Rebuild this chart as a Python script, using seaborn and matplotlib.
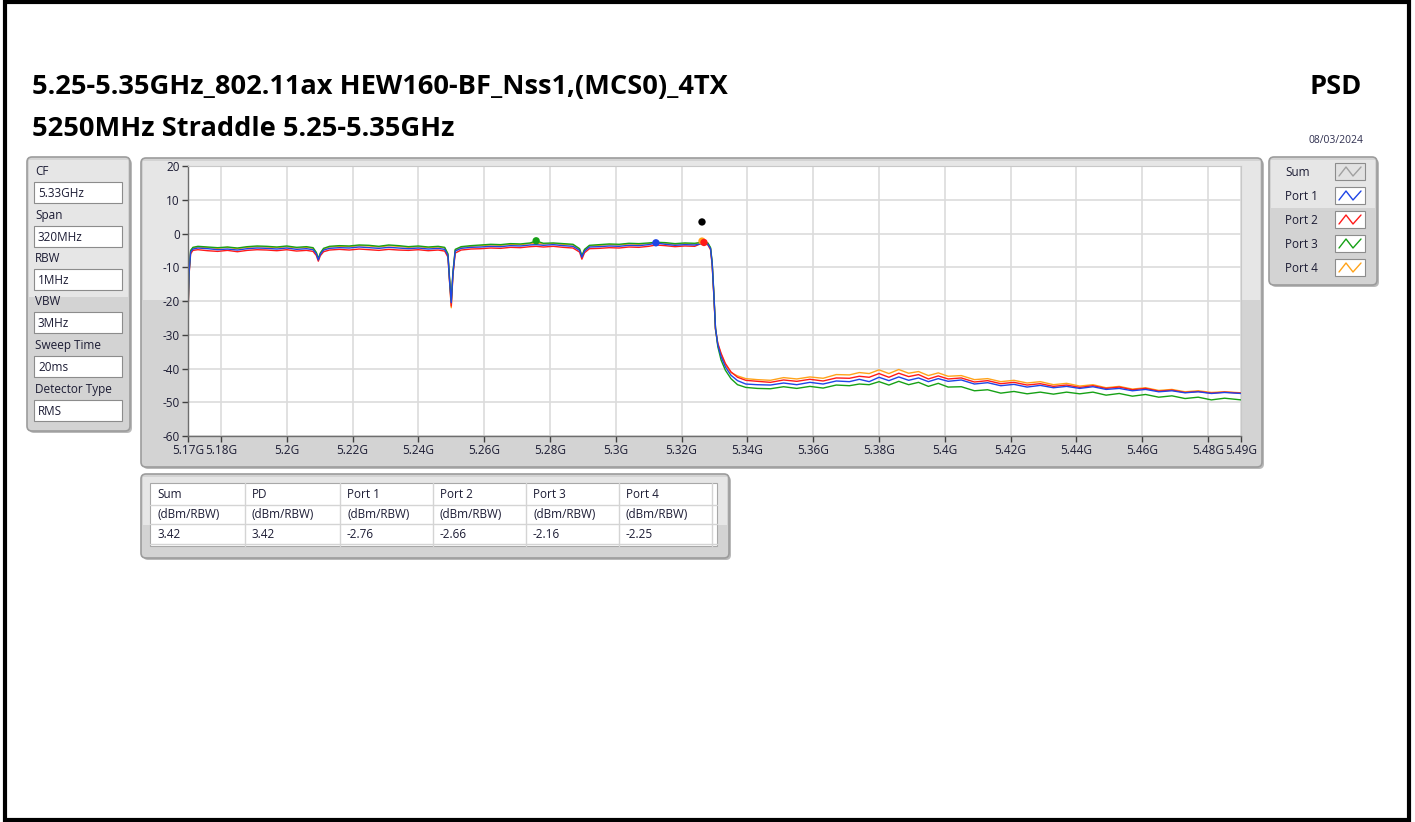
import pandas as pd
import matplotlib.pyplot as plt
import seaborn as sns
from matplotlib.patches import FancyBboxPatch, Rectangle
from matplotlib.lines import Line2D
from matplotlib.transforms import IdentityTransform

# %%
# spectrum trace (GHz / dBm per RBW)
freq = [
    5.1700, 5.1703, 5.1708, 5.1715, 5.1730, 5.1760, 5.1790, 5.1820, 5.1850, 5.1880,
    5.1910, 5.1940, 5.1970, 5.2000, 5.2030, 5.2060, 5.2080, 5.2090, 5.2096, 5.2102,
    5.2112, 5.2130, 5.2160, 5.2190, 5.2220, 5.2250, 5.2280, 5.2310, 5.2340, 5.2370,
    5.2400, 5.2430, 5.2460, 5.2480, 5.2490, 5.2495, 5.2500, 5.2505, 5.2512, 5.2530,
    5.2560, 5.2590, 5.2620, 5.2650, 5.2680, 5.2710, 5.2740, 5.2758, 5.2780, 5.2810,
    5.2840, 5.2870, 5.2890, 5.2897, 5.2905, 5.2920, 5.2950, 5.2980, 5.3010, 5.3040,
    5.3070, 5.3100, 5.3122, 5.3150, 5.3180, 5.3210, 5.3240, 5.3265, 5.3280, 5.3288,
    5.3293, 5.3298, 5.3303, 5.3310, 5.3320, 5.3333, 5.3350, 5.3370, 5.3395, 5.3430,
    5.3470, 5.3510, 5.3550, 5.3590, 5.3630, 5.3670, 5.3710, 5.3740, 5.3770, 5.3800,
    5.3830, 5.3860, 5.3890, 5.3920, 5.3950, 5.3980, 5.4010, 5.4050, 5.4090, 5.4130,
    5.4170, 5.4210, 5.4250, 5.4290, 5.4330, 5.4370, 5.4410, 5.4450, 5.4490, 5.4530,
    5.4570, 5.4610, 5.4650, 5.4690, 5.4730, 5.4770, 5.4810, 5.4850, 5.4900,
]

port1 = [
    -24.0, -12.0, -5.5, -4.6, -4.3, -4.5, -4.8, -4.6, -4.9, -4.5,
    -4.3, -4.4, -4.6, -4.3, -4.7, -4.5, -4.8, -6.0, -7.8, -6.2,
    -4.9, -4.4, -4.2, -4.3, -4.0, -4.2, -4.4, -4.1, -4.3, -4.5,
    -4.3, -4.6, -4.4, -4.7, -6.5, -14.0, -20.5, -12.0, -5.2, -4.4,
    -4.1, -4.0, -3.8, -3.9, -3.6, -3.7, -3.4, -3.3, -3.5, -3.3,
    -3.6, -3.8, -5.0, -7.0, -5.2, -4.0, -3.9, -3.7, -3.8, -3.5,
    -3.6, -3.3, -2.8, -3.2, -3.5, -3.3, -3.4, -3.0, -3.2, -4.5,
    -9.0, -18.0, -28.0, -33.0, -36.5, -39.5, -42.0, -43.6, -44.6, -44.8,
    -44.9, -44.3, -44.8, -44.1, -44.6, -43.7, -43.9, -43.2, -43.9, -42.6,
    -43.6, -42.5, -43.5, -42.8, -43.9, -43.0, -43.8, -43.4, -44.6, -44.2,
    -45.1, -44.7, -45.5, -45.0, -45.7, -45.3, -45.9, -45.4, -46.2, -45.9,
    -46.6, -46.2, -46.9, -46.6, -47.2, -46.9, -47.4, -47.1, -47.4,
]

port2 = [
    -24.5, -12.5, -6.0, -5.0, -4.8, -5.1, -5.3, -5.0, -5.4, -5.0,
    -4.8, -4.9, -5.1, -4.8, -5.2, -5.0, -5.3, -6.5, -8.2, -6.6,
    -5.4, -4.9, -4.7, -4.9, -4.6, -4.8, -5.0, -4.7, -4.9, -5.0,
    -4.8, -5.1, -4.9, -5.2, -7.0, -14.5, -21.5, -12.5, -5.8, -4.9,
    -4.6, -4.5, -4.3, -4.4, -4.1, -4.2, -3.9, -3.8, -4.0, -3.8,
    -4.1, -4.3, -5.5, -7.6, -5.7, -4.5, -4.4, -4.2, -4.3, -4.0,
    -4.1, -3.8, -3.4, -3.6, -3.9, -3.7, -3.8, -2.7, -3.4, -4.8,
    -9.5, -18.5, -28.5, -32.5, -35.5, -38.5, -41.0, -42.6, -43.5, -43.8,
    -44.1, -43.4, -43.8, -43.2, -43.7, -42.8, -42.9, -42.3, -42.6, -41.5,
    -42.6, -41.4, -42.4, -41.8, -43.1, -42.2, -43.1, -42.8, -44.0, -43.6,
    -44.5, -44.1, -44.9, -44.5, -45.3, -44.9, -45.6, -45.1, -45.9, -45.5,
    -46.3, -45.9, -46.7, -46.4, -47.1, -46.8, -47.3, -47.0, -47.3,
]

port3 = [
    -23.5, -11.5, -5.0, -4.1, -3.8, -4.0, -4.2, -4.0, -4.3, -3.9,
    -3.7, -3.8, -4.0, -3.7, -4.1, -3.9, -4.2, -5.6, -7.4, -5.8,
    -4.4, -3.8, -3.6, -3.7, -3.4, -3.5, -3.8, -3.4, -3.6, -3.9,
    -3.7, -4.0, -3.8, -4.1, -6.0, -13.5, -20.0, -11.5, -4.7, -3.9,
    -3.6, -3.4, -3.2, -3.3, -3.0, -3.1, -2.8, -2.2, -2.9, -2.8,
    -3.0, -3.2, -4.5, -6.6, -4.7, -3.5, -3.3, -3.1, -3.2, -2.9,
    -3.0, -2.8, -2.6, -2.7, -3.0, -2.8, -2.9, -2.6, -2.8, -4.2,
    -8.5, -17.5, -28.0, -33.5, -37.5, -40.5, -43.0, -44.8, -45.6, -45.9,
    -46.0, -45.4, -45.9, -45.3, -45.8, -44.9, -45.1, -44.6, -44.8, -43.9,
    -44.9, -43.8, -44.8, -44.1, -45.3, -44.4, -45.5, -45.4, -46.6, -46.3,
    -47.3, -46.8, -47.5, -47.0, -47.6, -47.0, -47.5, -47.0, -47.9, -47.4,
    -48.2, -47.7, -48.5, -48.1, -48.9, -48.5, -49.3, -48.8, -49.3,
]

port4 = [
    -23.8, -11.8, -5.2, -4.3, -4.0, -4.2, -4.4, -4.1, -4.5, -4.1,
    -3.9, -4.0, -4.2, -3.9, -4.3, -4.1, -4.4, -5.8, -7.6, -6.0,
    -4.6, -4.0, -3.8, -3.9, -3.6, -3.7, -4.0, -3.6, -3.8, -4.1,
    -3.9, -4.2, -4.0, -4.3, -6.3, -14.2, -22.0, -12.2, -5.0, -4.1,
    -3.8, -3.6, -3.4, -3.5, -3.2, -3.3, -3.0, -2.9, -3.1, -3.0,
    -3.2, -3.4, -4.7, -6.8, -4.9, -3.7, -3.5, -3.3, -3.4, -3.1,
    -3.2, -3.0, -2.9, -2.9, -3.2, -3.0, -3.1, -2.25, -3.0, -4.4,
    -9.2, -18.2, -28.3, -32.8, -35.8, -38.8, -41.2, -42.2, -43.0, -43.3,
    -43.5, -42.7, -43.1, -42.5, -42.9, -41.8, -41.9, -41.2, -41.5, -40.4,
    -41.5, -40.3, -41.4, -40.9, -42.1, -41.3, -42.3, -42.1, -43.3, -43.0,
    -43.9, -43.5, -44.3, -43.9, -44.8, -44.4, -45.2, -44.8, -45.7, -45.3,
    -46.1, -45.7, -46.5, -46.2, -46.9, -46.6, -47.1, -46.9, -47.2,
]

# peak markers (drawn in this order so the red Port 2 dot sits on top)
peak_names = ["Sum", "Port 1", "Port 3", "Port 4", "Port 2"]
peak_freq = [5.3262, 5.3122, 5.2758, 5.3262, 5.3268]
peak_val = [3.42, -2.76, -2.16, -2.25, -2.66]

legend_names = ["Sum", "Port 1", "Port 2", "Port 3", "Port 4"]

# settings / table text
settings_labels = ["CF", "Span", "RBW", "VBW", "Sweep Time", "Detector Type"]
settings_values = ["5.33GHz", "320MHz", "1MHz", "3MHz", "20ms", "RMS"]
table_header = ["Sum", "PD", "Port 1", "Port 2", "Port 3", "Port 4"]
table_units = ["(dBm/RBW)"] * 6
table_values = ["3.42", "3.42", "-2.76", "-2.66", "-2.16", "-2.25"]

x_ticks = [5.17, 5.18, 5.20, 5.22, 5.24, 5.26, 5.28, 5.30, 5.32, 5.34,
           5.36, 5.38, 5.40, 5.42, 5.44, 5.46, 5.48, 5.49]
y_ticks = [-60, -50, -40, -30, -20, -10, 0, 10, 20]

colors = {"Sum": "#a0a0a0", "Port 1": "#1f45e6", "Port 2": "#ff1a1a",
          "Port 3": "#16a116", "Port 4": "#ffa31a"}

# %%
df = pd.concat(
    [
        pd.DataFrame({"freq": freq, "psd": vals, "port": name})
        for name, vals in [("Port 4", port4), ("Port 2", port2),
                           ("Port 3", port3), ("Port 1", port1)]
    ],
    ignore_index=True,
)
peaks = pd.DataFrame({"freq": peak_freq, "psd": peak_val, "port": peak_names})

# %%
sns.set_style("white")
plt.rcParams["font.family"] = ["Open Sans", "DejaVu Sans"]

W, H = 1415, 822
fig = plt.figure(figsize=(W / 100, H / 100), dpi=100)
ident = IdentityTransform()


def txt(x, y, s, **kw):
    kw.setdefault("va", "center")
    kw.setdefault("ha", "left")
    kw.setdefault("fontsize", 8.5)
    kw.setdefault("color", "#1c1c34")
    fig.text(x, H - y, s, transform=ident, **kw)


def box(x0, y0, x1, y1, fc, ec="none", lw=1, z=0, rounded=False):
    if rounded:
        p = FancyBboxPatch((x0, H - y1), x1 - x0, y1 - y0,
                           boxstyle="round,pad=0,rounding_size=5",
                           fc=fc, ec=ec, lw=lw, transform=ident, zorder=z)
    else:
        p = Rectangle((x0, H - y1), x1 - x0, y1 - y0,
                      fc=fc, ec=ec, lw=lw, transform=ident, zorder=z)
    fig.add_artist(p)


def panel(x0, y0, x1, y1, split):
    box(x0 + 2, y0 + 2, x1 + 2, y1 + 2, "#b9b9b9", z=-6, rounded=True)
    box(x0, y0, x1, y1, "#d3d3d3", ec="#9c9c9c", lw=1.2, z=-5, rounded=True)
    box(x0 + 2, y0 + 3, x1 - 2, split, "#e6e6e6", z=-4)


def line(xs, ys, **kw):
    fig.add_artist(Line2D(xs, [H - y for y in ys], transform=ident, **kw))


# outer frame
box(5, 2, 1409, 820, "none", ec="black", lw=3, z=5)

# titles
txt(32, 87, "5.25-5.35GHz_802.11ax HEW160-BF_Nss1,(MCS0)_4TX",
    fontsize=19.6, fontweight="bold", color="black")
txt(32, 129, "5250MHz Straddle 5.25-5.35GHz",
    fontsize=19.6, fontweight="bold", color="black")
txt(1336, 87, "PSD", fontsize=19.6, fontweight="bold", color="black", ha="center")
txt(1336, 140, "08/03/2024", fontsize=7.5, ha="center", color="#303050")

# settings panel
panel(27, 157, 130, 431, 297)
label_y = [171, 215, 258, 301, 345, 389]
for lab, val, ly in zip(settings_labels, settings_values, label_y):
    txt(35, ly, lab)
    box(34, ly + 11, 122, ly + 32, "white", ec="#8c8c8c", lw=0.8)
    txt(38, ly + 22, val)

# plot panel
panel(141, 158, 1262, 467, 300)

# legend panel
panel(1269, 157, 1377, 285, 208)
for i, name in enumerate(legend_names):
    ly = 172 + 24 * i
    txt(1285, ly, name, fontsize=8.5)
    bx0, by0 = 1335, ly - 9
    box(bx0, by0, bx0 + 30, by0 + 17, "#e2e2e2" if name == "Sum" else "white",
        ec="#8c8c8c", lw=0.8)
    line([bx0 + 4, bx0 + 11, bx0 + 18, bx0 + 26],
         [by0 + 13, by0 + 4, by0 + 13, by0 + 4],
         color=colors[name], lw=1)

# table panel
panel(141, 474, 729, 558, 525)
box(150, 483, 717, 546, "white", ec="#a8a8a8", lw=0.8)
col_x = [150, 245, 340, 433, 526, 619, 712]
for cx in col_x[1:]:
    line([cx, cx], [483, 546], color="#d4d4d4", lw=1)
for ry in [505, 524, 544]:
    line([150, 717], [ry, ry], color="#d4d4d4", lw=1)
for j in range(6):
    txt(col_x[j] + 7, 494, table_header[j])
    txt(col_x[j] + 7, 514, table_units[j])
    txt(col_x[j] + 7, 534, table_values[j])

# %%
ax = fig.add_axes([188 / W, 1 - 436 / H, (1241 - 188) / W, (436 - 166) / H])
ax.set_facecolor("white")

sns.lineplot(data=df, x="freq", y="psd", hue="port", palette=colors,
             sort=False, estimator=None, lw=1, legend=False, ax=ax)
sns.scatterplot(data=peaks, x="freq", y="psd", hue="port",
                palette={**colors, "Sum": "black"}, s=28, edgecolor="none",
                legend=False, ax=ax, zorder=5)

ax.set_xlim(5.17, 5.49)
ax.set_ylim(-60, 20)
ax.set_xticks(x_ticks)
ax.set_xticklabels([f"{v:g}G" for v in x_ticks])
ax.set_yticks(y_ticks)
ax.set_yticklabels([str(v) for v in y_ticks])
ax.grid(True, color="#dcdcdc", lw=1.2)
ax.set_axisbelow(True)
ax.tick_params(direction="out", length=4, width=1, color="#404040",
               labelcolor="#1c1c34", labelsize=8.5, pad=2)
ax.tick_params(axis="both", which="both", left=True, bottom=True)
ax.set_xlabel("")
ax.set_ylabel("")
for side in ["left", "bottom"]:
    ax.spines[side].set_color("#6e6e6e")
    ax.spines[side].set_linewidth(1)
for side in ["top", "right"]:
    ax.spines[side].set_color("#c8c8c8")
    ax.spines[side].set_linewidth(0.8)

fig.savefig("out.png", dpi=100, facecolor="white")
